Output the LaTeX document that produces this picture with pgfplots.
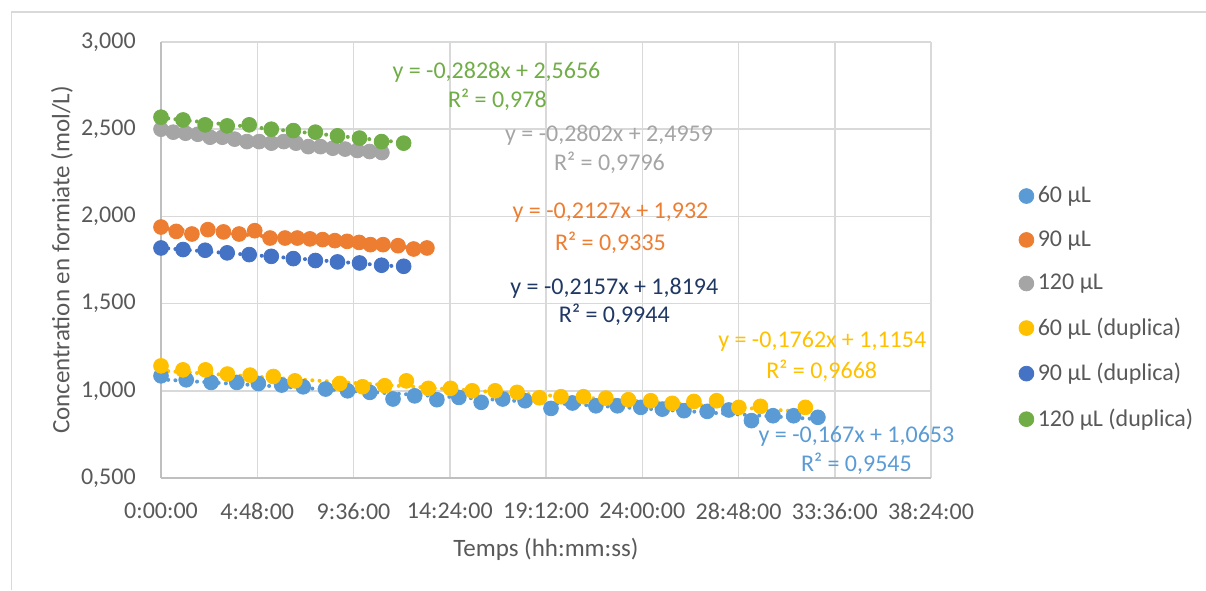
\documentclass[border=0pt]{standalone}
\usepackage{fontspec}
\setmainfont{Carlito}
\usepackage{pgfplots}
\pgfplotsset{compat=1.18}

\definecolor{cA}{HTML}{5B9BD5}   % 60 µL
\definecolor{cB}{HTML}{ED7D31}   % 90 µL
\definecolor{cC}{HTML}{A5A5A5}   % 120 µL
\definecolor{cD}{HTML}{FFC000}   % 60 µL duplica
\definecolor{cE}{HTML}{4472C4}   % 90 µL duplica
\definecolor{cF}{HTML}{70AD47}   % 120 µL duplica
\definecolor{navy}{HTML}{203864}
\definecolor{gridc}{HTML}{D9D9D9}
\definecolor{axisc}{HTML}{BFBFBF}
\definecolor{labc}{HTML}{595959}

\pgfplotsset{
  pts/.style={only marks, mark=*, mark size=3.7pt, mark options={draw=#1, fill=#1}},
  trend/.style={forget plot, color=#1, line width=2pt, line cap=round,
                dash pattern=on 0.01pt off 3.6pt},
}

\begin{document}
\begin{tikzpicture}
\path[use as bounding box] (0,0) rectangle (603pt,295pt);
\draw[gridc, line width=0.6pt] (5.8pt,0) -- (5.8pt,289pt) -- (603pt,289pt);

\begin{axis}[
  at={(80.5pt,56pt)}, anchor=south west,
  scale only axis, width=385pt, height=218pt,
  xmin=0, xmax=1.6, ymin=0.5, ymax=3,
  xtick={0,0.2,0.4,0.6,0.8,1.0,1.2,1.4,1.6},
  xticklabels={0:00:00,4:48:00,9:36:00,14:24:00,19:12:00,24:00:00,28:48:00,33:36:00,38:24:00},
  ytick={0.5,1,1.5,2,2.5,3},
  yticklabels={{0,500},{1,000},{1,500},{2,000},{2,500},{3,000}},
  /pgf/number format/assume math mode=true,
  grid=major, major grid style={gridc, line width=0.75pt},
  axis lines=left, axis line style={-, axisc, line width=0.75pt},
  tick style={draw=none},
  tick label style={font=\fontsize{12}{14}\selectfont, text=labc},
  yticklabel style={xshift=-7pt},
  xticklabel style={yshift=-7pt},
  xlabel={Temps (hh:mm:ss)}, ylabel={Concentration en formiate (mol/L)},
  label style={font=\fontsize{12.5}{15}\selectfont, text=labc},
  xlabel style={at={(axis description cs:0.5,-0.163)}, anchor=center},
  ylabel style={at={(axis description cs:-0.1286,0.5)}, anchor=center},
  legend style={draw=none, fill=none, at={(1.106,0.688)}, anchor=north west,
    font=\fontsize{12}{14}\selectfont, text=labc, row sep=8.5pt},
  legend cell align=left,
  legend image code/.code={\draw[mark repeat=2,mark phase=2,#1] plot coordinates {(0cm,0cm) (0.15cm,0cm) (0.3cm,0cm)};},
  clip=false,
]

% trend lines (endpoints from the displayed equations)
\addplot[trend=cA] coordinates {(0,1.0653) (1.365,0.8373)};
\addplot[trend=cB] coordinates {(0,1.932) (0.5526,1.8145)};
\addplot[trend=cC] coordinates {(0,2.4959) (0.459,2.3673)};
\addplot[trend=cD] coordinates {(0,1.1154) (1.3389,0.8795)};
\addplot[trend=cE] coordinates {(0,1.8194) (0.5042,1.7106)};
\addplot[trend=cF] coordinates {(0,2.5656) (0.5042,2.4230)};

% 60 µL
\addplot[pts=cA] coordinates {
(0,1.086) (0.0524,1.063) (0.1042,1.048) (0.1575,1.048) (0.2023,1.042)
(0.2508,1.033) (0.2955,1.023) (0.3420,1.010) (0.3876,1.000) (0.4338,0.991)
(0.4821,0.953) (0.5271,0.971) (0.5733,0.949) (0.6189,0.962) (0.6653,0.934)
(0.7101,0.953) (0.7565,0.943) (0.8104,0.899) (0.8551,0.930) (0.9036,0.914)
(0.9484,0.914) (0.9969,0.905) (1.0417,0.895) (1.0866,0.886) (1.1349,0.882)
(1.1799,0.890) (1.2269,0.829) (1.2717,0.857) (1.3146,0.857) (1.3650,0.848)};
\addlegendentry{60 µL}

% 90 µL
\addplot[pts=cB] coordinates {
(0,1.939) (0.0317,1.914) (0.0642,1.899) (0.0974,1.924) (0.1298,1.911)
(0.1623,1.899) (0.1948,1.918) (0.2266,1.876) (0.2577,1.876) (0.2832,1.876)
(0.3095,1.871) (0.3358,1.867) (0.3613,1.861) (0.3868,1.857) (0.4117,1.851)
(0.4352,1.838) (0.4614,1.838) (0.4925,1.832) (0.5250,1.813) (0.5526,1.819)};
\addlegendentry{90 µL}

% 120 µL
\addplot[pts=cC] coordinates {
(0,2.500) (0.0255,2.483) (0.0510,2.477) (0.0765,2.471) (0.1020,2.454)
(0.1275,2.454) (0.1530,2.443) (0.1785,2.429) (0.2040,2.429) (0.2295,2.420)
(0.2550,2.429) (0.2805,2.420) (0.3060,2.400) (0.3315,2.400) (0.3570,2.391)
(0.3825,2.386) (0.4080,2.378) (0.4335,2.372) (0.4590,2.366)};
\addlegendentry{120 µL}

% 60 µL (duplica)
\addplot[pts=cD] coordinates {
(0,1.143) (0.0456,1.120) (0.0924,1.120) (0.1380,1.096) (0.1851,1.090)
(0.2334,1.082) (0.2783,1.057) (0.3716,1.042) (0.4187,1.023) (0.4649,1.029)
(0.5098,1.057) (0.5554,1.014) (0.6017,1.014) (0.6466,1.000) (0.6943,1.000)
(0.7399,0.991) (0.7861,0.960) (0.8311,0.966) (0.8779,0.966) (0.9244,0.958)
(0.9712,0.949) (1.0176,0.943) (1.0624,0.928) (1.1073,0.939) (1.1544,0.943)
(1.2006,0.905) (1.2456,0.911) (1.3389,0.905)};
\addlegendentry{60 µL (duplica)}

% 90 µL (duplica)
\addplot[pts=cE] coordinates {
(0,1.819) (0.0458,1.810) (0.0917,1.806) (0.1375,1.791) (0.1833,1.781)
(0.2292,1.771) (0.2750,1.758) (0.3208,1.747) (0.3667,1.739) (0.4125,1.733)
(0.4583,1.720) (0.5042,1.714)};
\addlegendentry{90 µL (duplica)}

% 120 µL (duplica)
\addplot[pts=cF] coordinates {
(0,2.569) (0.0458,2.553) (0.0917,2.525) (0.1375,2.519) (0.1833,2.525)
(0.2292,2.500) (0.2750,2.492) (0.3208,2.483) (0.3667,2.462) (0.4125,2.449)
(0.4583,2.429) (0.5042,2.420)};
\addlegendentry{120 µL (duplica)}

% trendline labels
\tikzset{eq/.style={font=\fontsize{12}{14}\selectfont, inner sep=0pt}}
\node[eq, text=cF] at (axis cs:0.697,2.824) {y = -0,2828x + 2,5656};
\node[eq, text=cF] at (axis cs:0.699,2.668) {R² = 0,978};
\node[eq, text=cC] at (axis cs:0.931,2.467) {y = -0,2802x + 2,4959};
\node[eq, text=cC] at (axis cs:0.932,2.307) {R² = 0,9796};
\node[eq, text=cB] at (axis cs:0.934,2.023) {y = -0,2127x + 1,932};
\node[eq, text=cB] at (axis cs:0.934,1.851) {R² = 0,9335};
\node[eq, text=navy] at (axis cs:0.942,1.590) {y = -0,2157x + 1,8194};
\node[eq, text=navy] at (axis cs:0.942,1.438) {R² = 0,9944};
\node[eq, text=cD] at (axis cs:1.374,1.285) {y = -0,1762x + 1,1154};
\node[eq, text=cD] at (axis cs:1.373,1.113) {R² = 0,9668};
\node[eq, text=cA] at (axis cs:1.445,0.741) {y = -0,167x + 1,0653};
\node[eq, text=cA] at (axis cs:1.445,0.579) {R² = 0,9545};
\end{axis}
\end{tikzpicture}
\end{document}
